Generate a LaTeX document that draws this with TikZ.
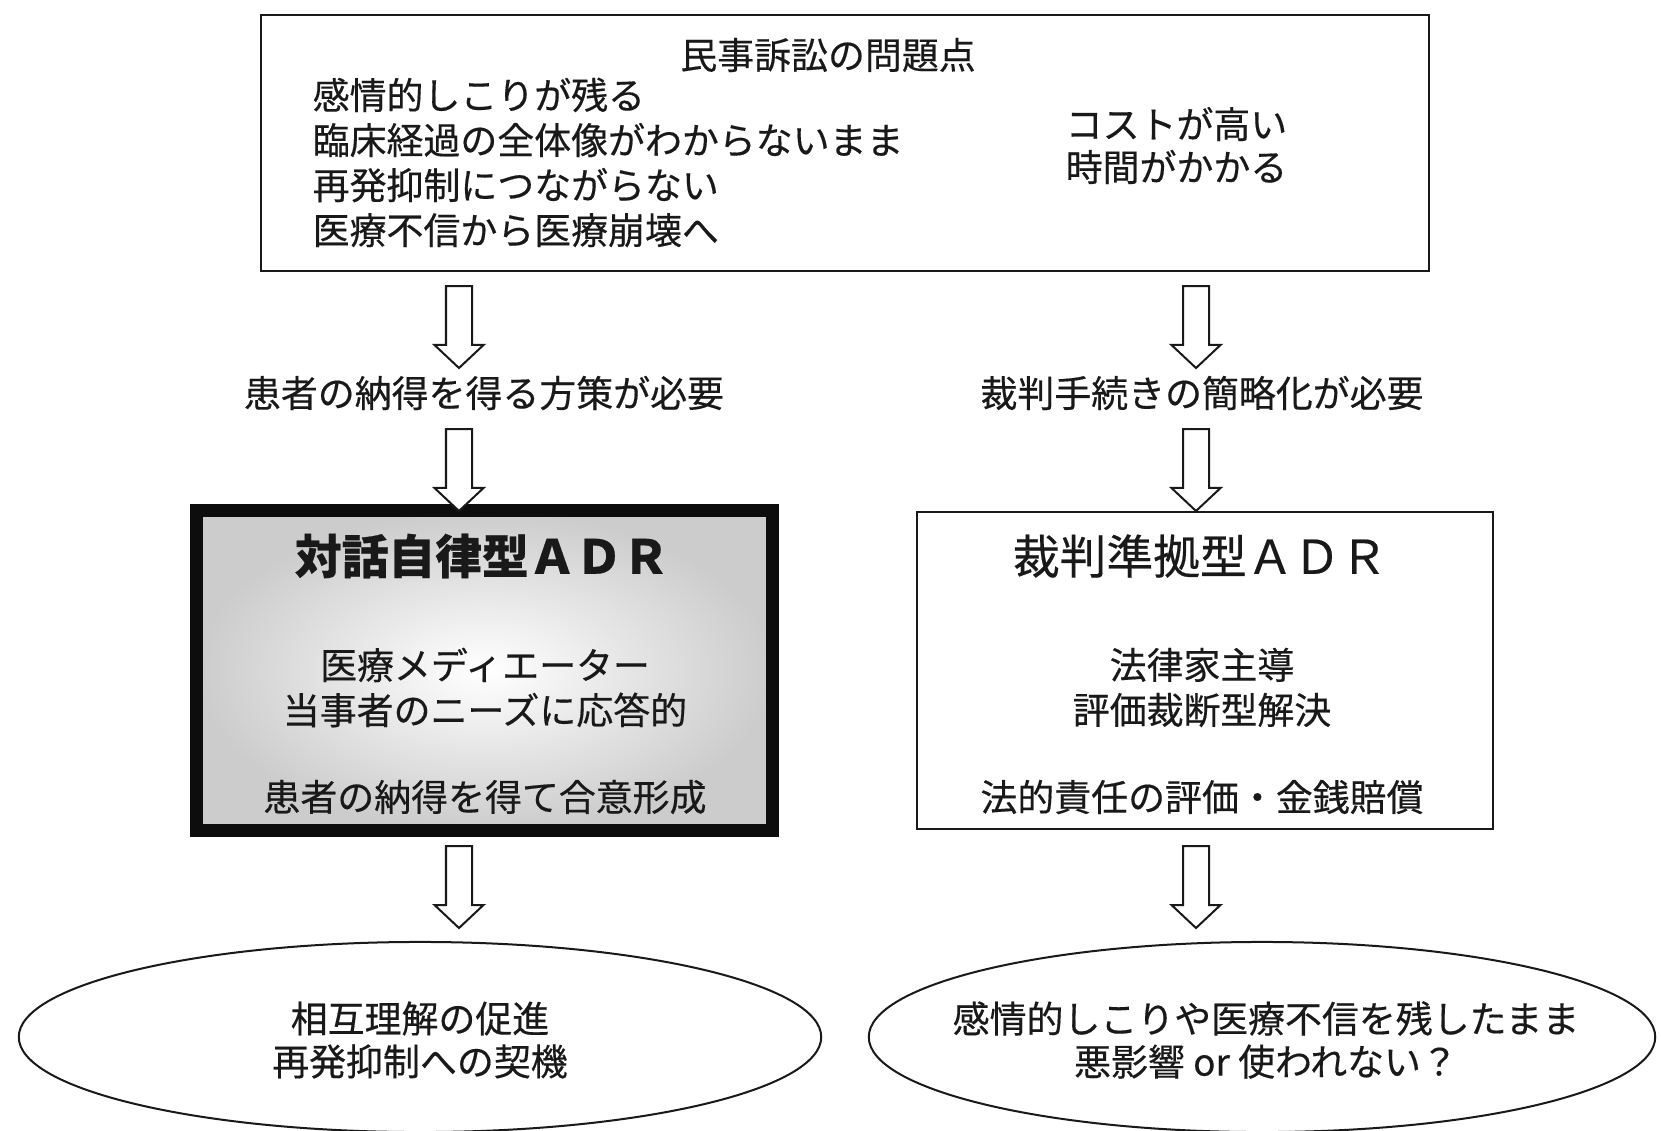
\documentclass[tikz,border=0pt]{standalone}
\usepackage{fontspec}
\setmainfont{Noto Sans CJK JP}[FakeBold=0.4]
\usetikzlibrary{shapes.geometric,calc}

\newcommand{\hollowarrow}[2]{%
  \draw[arrowline] let \p1=(#1), \p2=(#2) in
    (\x1-0.13cm,\y1) -- (\x1-0.13cm,\y2+0.23cm) -- (\x1-0.245cm,\y2+0.23cm)
    -- (\x1,\y2) -- (\x1+0.245cm,\y2+0.23cm) -- (\x1+0.13cm,\y2+0.23cm)
    -- (\x1+0.13cm,\y1) -- cycle;}

\begin{document}
\begin{tikzpicture}
            [x=0.01cm,y=-0.01cm,
             every node/.style={font=\fontsize{10.5}{12.8}\selectfont,text=black!90,inner sep=0pt},
             frame/.style={draw=black!90,line width=0.02cm},
             arrowline/.style={draw=black!90,line width=0.02cm,fill=white,line join=miter},
             adrtitle/.style={font=\fontsize{13.3}{16}\selectfont},
             tight/.style={font=\fontsize{10.5}{12.2}\selectfont}]
            \clip (0,0) rectangle (1661,1130);
            \fill[white] (0,0) rectangle (1661,1130);
            \node[frame,minimum width=11.68cm,minimum height=2.56cm] (probs) at (845,143) {};
            \node (ptitle) at (828,55) {民事訴訟の問題点};
            \node[anchor=west,align=left] (plist) at (312,162.5)
                {感情的しこりが残る\\臨床経過の全体像がわからないまま\\再発抑制につながらない\\医療不信から医療崩壊へ};
            \node[anchor=west,align=left,tight] (pcost) at (1065,145.5) {コストが高い\\時間がかかる};
            \node (lneed) at (484,393) {患者の納得を得る方策が必要};
            \node (rneed) at (1202,393) {裁判手続きの簡略化が必要};
            \node[draw=black!95,line width=0.13cm,inner color=white,outer color=black!20,
                  minimum width=5.75cm,minimum height=3.195cm] (dadr) at (484.5,670.75) {};
            \node[font={\fontsize{13.3}{16}\selectfont\bfseries}] (dtitle) at (482,556) {対話自律型ＡＤＲ};
            \node[align=center] (dbody) at (485,687.5) {医療メディエーター\\当事者のニーズに応答的};
            \node (dgoal) at (485,797) {患者の納得を得て合意形成};
            \node[frame,minimum width=5.76cm,minimum height=3.17cm] (sadr) at (1205,670.5) {};
            \node[adrtitle] (stitle) at (1200,556) {裁判準拠型ＡＤＲ};
            \node[align=center] (sbody) at (1202,687.5) {法律家主導\\評価裁断型解決};
            \node (sgoal) at (1202,797) {法的責任の評価・金銭賠償};
            \node[ellipse,frame,minimum width=8.02cm,minimum height=1.9cm] (lres) at (420,1037) {};
            \node[ellipse,frame,minimum width=7.86cm,minimum height=1.9cm] (rres) at (1262,1037) {};
            \node[tight,align=center] (lrestext) at (420,1040) {相互理解の促進\\再発抑制への契機};
            \node[tight,align=center] (rrestext) at (1266,1040) {感情的しこりや医療不信を残したまま\\悪影響 or 使われない？};
            \coordinate (la1) at (459,286);  \coordinate (la2) at (459,368);
            \coordinate (la3) at (459,429);  \coordinate (la4) at (459,511);
            \coordinate (la5) at (459,846);  \coordinate (la6) at (459,928);
            \coordinate (ra1) at (1196,286); \coordinate (ra2) at (1196,368);
            \coordinate (ra3) at (1196,429); \coordinate (ra4) at (1196,511);
            \coordinate (ra5) at (1196,846); \coordinate (ra6) at (1196,928);
            \foreach \from/\to in {la1/la2,la3/la4,la5/la6,ra1/ra2,ra3/ra4,ra5/ra6}
            \hollowarrow{\from}{\to};
        \end{tikzpicture}
\end{document}
